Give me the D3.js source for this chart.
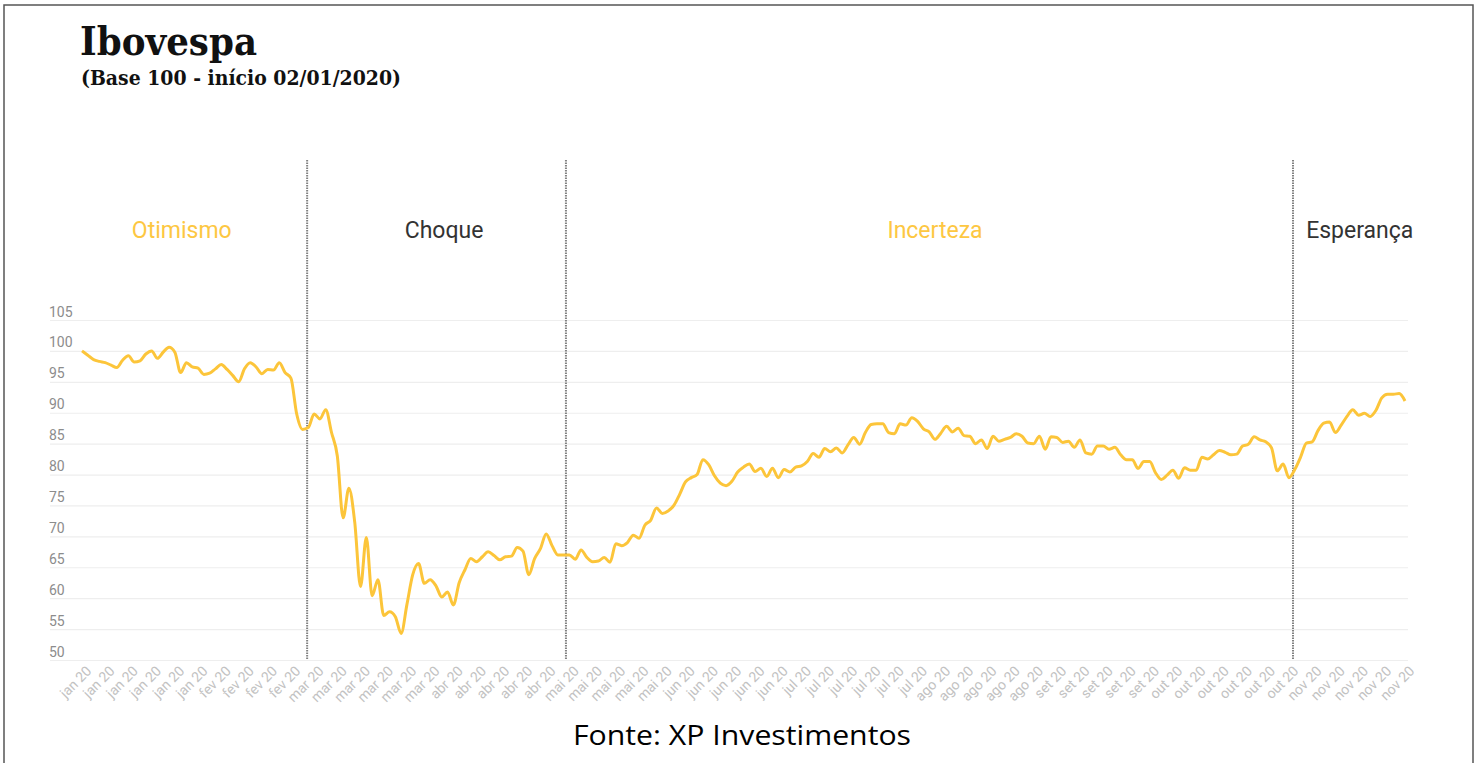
<!DOCTYPE html>
<html>
<head>
<meta charset="utf-8">
<script src="https://cdn.jsdelivr.net/npm/d3@7"></script>
<style>
  body { margin: 0; background: #fff; }
  svg { display: block; }
</style>
</head>
<body>
<div id="canvas"></div>
<script>
"use strict"

// Ibovespa, base 100 on 02/01/2020, one value per trading day
let ibov = [
    100, 99.3, 98.6, 98.3, 98.1, 97.7, 97.3, 98.5, 99.2, 98.2,
    98.4, 99.5, 100, 98.8, 99.8, 100.6, 99.8, 96.5, 98.1, 97.4,
    97.2, 96.2, 96.4, 97.1, 97.8, 97.0, 96.0, 95.0, 97.1, 98.1,
    97.4, 96.3, 97.0, 96.9, 98.1, 96.5, 95.6, 89.8, 87.3, 87.6,
    89.8, 89.0, 90.5, 86.8, 83.0, 73.0, 77.8, 72.3, 61.9, 69.8,
    60.4, 63.0, 57.2, 57.8, 57.0, 54.3, 59.0, 63.8, 65.6, 62.4,
    63.0, 62.0, 60.2, 61.0, 58.9, 62.5, 64.6, 66.4, 65.9, 66.7,
    67.5, 66.9, 66.2, 66.7, 66.8, 68.2, 67.6, 63.8, 66.4, 68.0,
    70.4, 68.5, 67.0, 67.0, 67.0, 66.3, 67.8, 66.6, 65.9, 66.0,
    66.6, 65.8, 68.8, 68.5, 69.0, 70.2, 69.7, 71.8, 72.6, 74.6,
    73.7, 74.1, 75.0, 76.8, 78.8, 79.5, 80.0, 82.4, 81.6, 79.8,
    78.6, 78.2, 78.9, 80.4, 81.2, 81.7, 80.5, 81.0, 79.7, 81.0,
    79.5, 80.8, 80.4, 81.2, 81.4, 82.1, 83.4, 82.8, 84.2, 83.7,
    84.3, 83.5, 84.8, 86.0, 84.9, 86.8, 88.1, 88.2, 88.2, 86.8,
    86.6, 88.2, 88.0, 89.2, 88.6, 87.4, 86.9, 85.7, 86.7, 87.8,
    86.9, 87.5, 86.3, 86.2, 85.0, 85.6, 84.2, 86.2, 85.4, 85.7,
    86.0, 86.6, 86.2, 85.1, 85.0, 86.2, 84.1, 86.1, 86.0, 85.2,
    85.4, 84.4, 85.6, 83.5, 83.3, 84.6, 84.6, 84.1, 84.4, 83.2,
    82.4, 82.4, 81.0, 82.1, 82.1, 80.3, 79.2, 79.9, 80.7, 79.4,
    81.1, 80.7, 80.7, 82.8, 82.5, 83.2, 83.9, 83.6, 83.2, 83.3,
    84.6, 84.9, 86.1, 85.6, 85.3, 84.3, 80.6, 81.7, 79.5, 80.8,
    82.8, 85.1, 85.3, 87.1, 88.3, 88.5, 86.8, 88.0, 89.4, 90.5,
    89.6, 89.9, 89.4, 90.4, 92.4, 93.0, 93.0, 93.1, 91.9
]

// one label every 4 trading days
let tickLabels = [
    "jan 20", "jan 20", "jan 20", "jan 20", "jan 20", "jan 20",
    "fev 20", "fev 20", "fev 20", "fev 20",
    "mar 20", "mar 20", "mar 20", "mar 20", "mar 20", "mar 20",
    "abr 20", "abr 20", "abr 20", "abr 20", "abr 20",
    "mai 20", "mai 20", "mai 20", "mai 20", "mai 20",
    "jun 20", "jun 20", "jun 20", "jun 20", "jun 20",
    "jul 20", "jul 20", "jul 20", "jul 20", "jul 20", "jul 20",
    "ago 20", "ago 20", "ago 20", "ago 20", "ago 20",
    "set 20", "set 20", "set 20", "set 20", "set 20",
    "out 20", "out 20", "out 20", "out 20", "out 20", "out 20",
    "nov 20", "nov 20", "nov 20", "nov 20", "nov 20"
]

let yTicks = [50, 55, 60, 65, 70, 75, 80, 85, 90, 95, 100, 105]

// phases of the year: name, where its label sits and where each one ends (trading day index)
let phaseNames = ["Otimismo", "Choque", "Incerteza", "Esperança"]
let phaseLabelAt = [17.2, 62.4, 147, 220.2]
let phaseBreaks = [38.8, 83.4, 208.7]
let phaseHighlight = [true, false, true, false]

let svgWidth = 1477
let svgHeight = 763

let plot = { left: 82, right: 1405, top: 320, bottom: 660, gridLeft: 50, gridRight: 1408 }

let lineColor = "#fcc53a"
let phaseYellow = "#fdc742"

let svg = d3.select("#canvas")
    .append("svg")
    .attr("width", svgWidth)
    .attr("height", svgHeight)

// frame around the picture
svg.append("rect")
    .attr("x", 4)
    .attr("y", 5)
    .attr("width", 1469)
    .attr("height", 780)
    .attr("fill", "none")
    .attr("stroke", "#555")
    .attr("stroke-width", 1.5)

let xScale = d3.scaleLinear()
    .domain([0, ibov.length - 1])
    .range([plot.left, plot.right])

let yScale = d3.scaleLinear()
    .domain([50, 105])
    .range([plot.bottom, plot.top])

/* Title */
svg.append("text")
    .attr("x", 80)
    .attr("y", 55)
    .attr("font-family", "DejaVu Serif")
    .attr("font-weight", "bold")
    .attr("font-size", 40)
    .attr("textLength", 177)
    .attr("lengthAdjust", "spacingAndGlyphs")
    .attr("fill", "#111")
    .text("Ibovespa")

svg.append("text")
    .attr("x", 81)
    .attr("y", 85)
    .attr("font-family", "DejaVu Serif")
    .attr("font-weight", "bold")
    .attr("font-size", 20)
    .attr("textLength", 320)
    .attr("lengthAdjust", "spacingAndGlyphs")
    .attr("fill", "#111")
    .text("(Base 100 - início 02/01/2020)")

/* Y axis with grid lines */
let yAxis = d3.axisLeft(yScale)
    .tickValues(yTicks)
    .tickSize(-(plot.gridRight - plot.gridLeft))
    .tickFormat(d3.format("d"))

let yAxisG = svg.append("g")
    .attr("transform", `translate(${plot.gridLeft},0)`)
    .call(yAxis)

yAxisG.select(".domain").remove()
yAxisG.selectAll(".tick line")
    .attr("stroke", "#eeeeee")
    .attr("stroke-width", 1.2)
yAxisG.selectAll(".tick text")
    .attr("x", -1)
    .attr("y", -4)
    .attr("dy", 0)
    .attr("text-anchor", "start")
    .attr("font-family", "Roboto")
    .attr("font-size", 14)
    .attr("fill", "#8c8c8c")

/* X axis, one label every 4 days */
let xAxis = d3.axisBottom(xScale)
    .tickValues(d3.range(0, ibov.length, 4))
    .tickSize(0)
    .tickFormat(function (value) {
        return tickLabels[value / 4]
    })

let xAxisG = svg.append("g")
    .attr("transform", `translate(3,${plot.bottom + 5})`)
    .call(xAxis)

xAxisG.select(".domain").remove()
xAxisG.selectAll(".tick text")
    .attr("y", 0)
    .attr("x", 0)
    .attr("dy", "0.7em")
    .attr("text-anchor", "end")
    .attr("transform", "rotate(-45)")
    .attr("font-family", "Roboto")
    .attr("font-size", 14)
    .attr("fill", "#c2c2c2")

/* Phase dividers */
svg.selectAll("line.divider")
    .data(phaseBreaks)
    .enter()
    .append("line")
    .attr("class", "divider")
    .attr("x1", function (value) { return xScale(value) })
    .attr("x2", function (value) { return xScale(value) })
    .attr("y1", 160)
    .attr("y2", plot.bottom)
    .attr("stroke", "#808080")
    .attr("stroke-width", 2)
    .attr("stroke-dasharray", "1.5,1")

/* Phase names */
svg.selectAll("text.phase")
    .data(phaseNames)
    .enter()
    .append("text")
    .attr("class", "phase")
    .attr("x", function (value, i) { return xScale(phaseLabelAt[i]) })
    .attr("y", 238)
    .attr("text-anchor", "middle")
    .attr("font-family", "Roboto")
    .attr("font-size", 23)
    .attr("fill", function (value, i) { return phaseHighlight[i] ? phaseYellow : "#333" })
    .text(function (value) { return value })

/* The index line */
let line = d3.line()
    .x(function (value, i) { return xScale(i) })
    .y(function (value) { return yScale(value) })
    .curve(d3.curveMonotoneX)

svg.append("path")
    .datum(ibov)
    .attr("d", line)
    .attr("fill", "none")
    .attr("stroke", lineColor)
    .attr("stroke-width", 3)
    .attr("stroke-linejoin", "round")

/* Source */
svg.append("text")
    .attr("x", 742)
    .attr("y", 745)
    .attr("text-anchor", "middle")
    .attr("font-family", "Open Sans")
    .attr("font-size", 27)
    .attr("textLength", 338)
    .attr("lengthAdjust", "spacingAndGlyphs")
    .attr("fill", "#000")
    .text("Fonte: XP Investimentos")
</script>
</body>
</html>
